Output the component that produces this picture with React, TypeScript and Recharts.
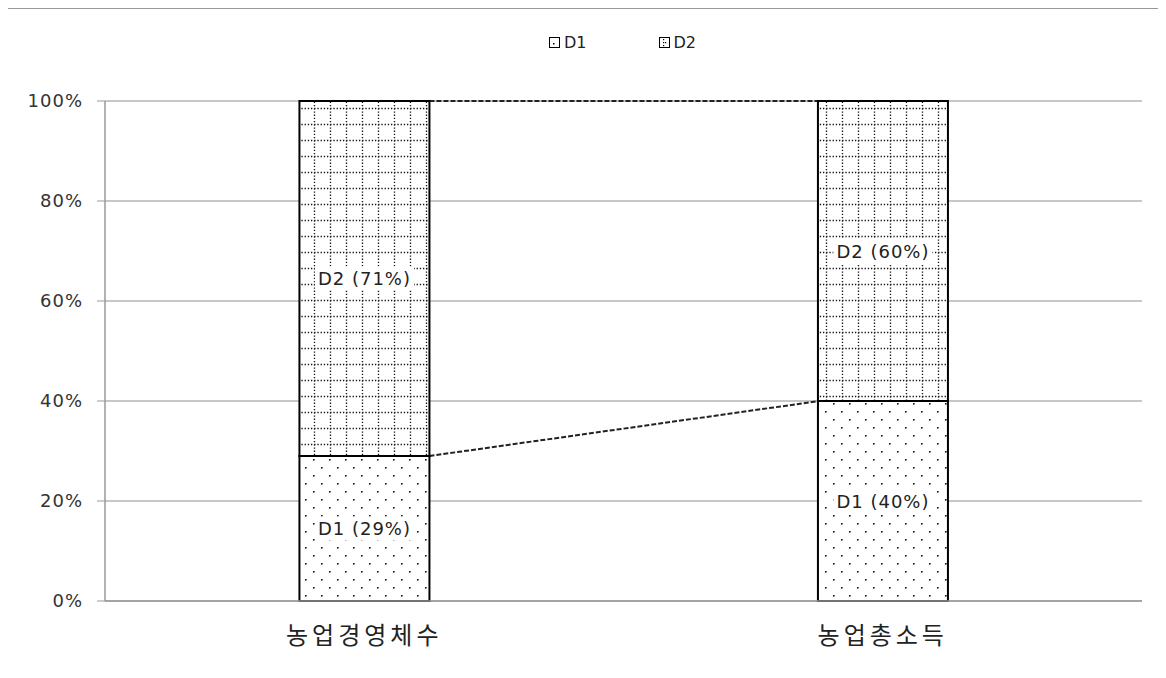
import { Bar, BarChart, CartesianGrid, LabelList, Legend, XAxis, YAxis } from "recharts";

const categories = ["농업경영체수", "농업총소득"];
const d1Values = [29, 40];
const d2Values = [71, 60];
const yTicks = [0, 20, 40, 60, 80, 100];

const rows = categories.map((name, i) => ({ name, D1: d1Values[i], D2: d2Values[i] }));

// bars take 25% of each category band
const barShare = 0.25;
const categoryGap = `${((1 - barShare) / 2) * 100}%`;

const font = "'DejaVu Sans', Verdana, sans-serif";
const labelSize = 18;

let measureCtx: CanvasRenderingContext2D | null = null;
function textWidth(s: string) {
  if (!measureCtx) measureCtx = document.createElement("canvas").getContext("2d");
  if (!measureCtx) return s.length * 11;
  measureCtx.font = `${labelSize}px ${font}`;
  return measureCtx.measureText(s).width + s.length * 1;
}

// bar + dashed connector to the next bar's top (derived from this bar's own scale)
function connectedShape(series: "D1" | "D2") {
  return (props: any) => {
    const { x, y, width, height, index, fill } = props;
    const own = series === "D1" ? d1Values : d2Values;
    let connector = null;
    if (index < categories.length - 1 && own[index] > 0) {
      const ppu = height / own[index];
      const zeroY = series === "D1" ? y + height : y + height + d1Values[index] * ppu;
      const nextTotal = series === "D1" ? d1Values[index + 1] : d1Values[index + 1] + d2Values[index + 1];
      const step = width / barShare;
      connector = (
        <line
          x1={x + width}
          y1={y}
          x2={x + step}
          y2={zeroY - nextTotal * ppu}
          stroke="#222"
          strokeWidth={2}
          strokeDasharray="5 2"
        />
      );
    }
    return (
      <g>
        {connector}
        <rect x={x} y={y} width={width} height={height} fill={fill} stroke="#000" strokeWidth={2} />
      </g>
    );
  };
}

function boxedLabel(series: string) {
  return (props: any) => {
    const { x, y, width, height, value } = props;
    const text = `${series} (${value}%)`;
    const cx = x + width / 2;
    const cy = y + height / 2;
    const w = textWidth(text) + 6;
    return (
      <g>
        <rect x={cx - w / 2} y={cy - 12} width={w} height={24} fill="#fff" />
        <text
          x={cx}
          y={cy}
          textAnchor="middle"
          dominantBaseline="central"
          fontSize={labelSize}
          fill="#222"
          fontFamily={font}
          letterSpacing={1}
        >
          {text}
        </text>
      </g>
    );
  };
}

function Swatch({ fill }: { fill: string }) {
  return (
    <svg width={11} height={11} style={{ display: "block" }}>
      <rect x={0.5} y={0.5} width={10} height={10} fill={fill} stroke="#000" strokeWidth={1} />
    </svg>
  );
}

function LegendBox() {
  return (
    <div
      style={{
        display: "flex",
        justifyContent: "center",
        gap: 72,
        paddingLeft: 96,
        fontFamily: font,
        fontSize: 16,
        color: "#222",
      }}
    >
      {[
        { name: "D1", fill: "url(#legD1)" },
        { name: "D2", fill: "url(#legD2)" },
      ].map((it) => (
        <span key={it.name} style={{ display: "flex", alignItems: "center", gap: 4 }}>
          <Swatch fill={it.fill} />
          {it.name}
        </span>
      ))}
    </div>
  );
}

export default function App() {
  const tick = { fontSize: 18, fill: "#333", fontFamily: font, letterSpacing: 1 };
  return (
    <div
      style={{
        position: "relative",
        left: -2,
        width: 1154,
        height: 700,
        border: "1px solid #999",
        borderRight: "1px solid #ddd",
        boxSizing: "border-box",
        background: "#fff",
      }}
    >
      <svg width={0} height={0} style={{ position: "absolute" }}>
        <defs>
          <pattern id="legD1" patternUnits="userSpaceOnUse" width={10} height={10}>
            <rect width={10} height={10} fill="#fff" />
            <rect x={4} y={6} width={1.5} height={1.5} fill="#000" />
          </pattern>
          <pattern id="legD2" patternUnits="userSpaceOnUse" width={10} height={10}>
            <rect width={10} height={10} fill="#fff" />
            <rect x={4} y={2} width={1.2} height={1.2} fill="#000" />
            <rect x={4} y={5} width={1.2} height={1.2} fill="#000" />
            <rect x={4} y={8} width={1.2} height={1.2} fill="#000" />
            <rect x={6} y={5} width={1.2} height={1.2} fill="#000" />
          </pattern>
        </defs>
      </svg>
      <BarChart
        width={1150}
        height={680}
        data={rows}
        margin={{ top: 73, right: 15, bottom: 28, left: 0 }}
        barCategoryGap={categoryGap}
      >
        <defs>
          <pattern id="patD1" patternUnits="userSpaceOnUse" width={16} height={16}>
            <rect width={16} height={16} fill="#fff" />
            <rect x={2} y={2} width={1.6} height={1.6} fill="#111" />
            <rect x={10} y={10} width={1.6} height={1.6} fill="#111" />
          </pattern>
          <pattern id="patD2" patternUnits="userSpaceOnUse" width={16} height={16}>
            <rect width={16} height={16} fill="#fff" />
            <line x1={0} y1={3.5} x2={16} y2={3.5} stroke="#111" strokeWidth={1.3} strokeDasharray="1.3 1.9" />
            <line x1={3.5} y1={0} x2={3.5} y2={16} stroke="#111" strokeWidth={1.3} strokeDasharray="1.3 1.9" />
          </pattern>
        </defs>
        <CartesianGrid vertical={false} stroke="#b4b4b4" strokeWidth={1.5} />
        <XAxis
          dataKey="name"
          height={60}
          tickLine={false}
          axisLine={{ stroke: "#999", strokeWidth: 1.5 }}
          tick={{ fontSize: 24, fill: "#222", fontFamily: "'Noto Sans CJK KR', sans-serif", letterSpacing: 4 }}
          tickMargin={20}
        />
        <YAxis
          width={98}
          domain={[0, 100]}
          ticks={yTicks}
          tickFormatter={(v) => `${v}%`}
          tick={tick}
          tickLine={{ stroke: "#999" }}
          tickSize={8}
          tickMargin={14}
          axisLine={{ stroke: "#999", strokeWidth: 1.5 }}
        />
        <Legend verticalAlign="top" wrapperStyle={{ top: 24 }} content={() => <LegendBox />} />
        <Bar dataKey="D1" stackId="a" fill="url(#patD1)" shape={connectedShape("D1")} isAnimationActive={false}>
          <LabelList dataKey="D1" content={boxedLabel("D1")} />
        </Bar>
        <Bar dataKey="D2" stackId="a" fill="url(#patD2)" shape={connectedShape("D2")} isAnimationActive={false}>
          <LabelList dataKey="D2" content={boxedLabel("D2")} />
        </Bar>
      </BarChart>
    </div>
  );
}
